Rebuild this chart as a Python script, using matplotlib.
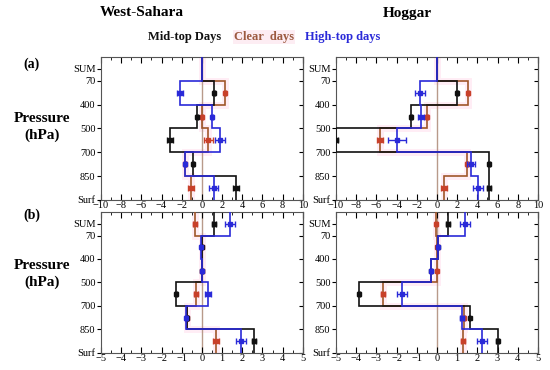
import numpy as np
import matplotlib
matplotlib.use('Agg')
import matplotlib.pyplot as plt
from matplotlib.ticker import MultipleLocator

plt.rcParams['font.family'] = ['Liberation Serif', 'DejaVu Serif']

# pressure levels, bottom to top
levels = ['Surf', '850', '700', '500', '400', '70', 'SUM']
level_pos = [0, 1, 2, 3, 4, 5, 5.5]

# (a) West-Sahara, layers Surf-850 ... 400-70
ws_a_mid = [3.4, -0.9, -3.2, -0.5, 1.2]
ws_a_clear = [-1.1, -1.7, 0.65, 0.0, 2.25]
ws_a_high = [1.15, -1.7, 1.75, 1.0, -2.2]
ws_a_mid_err = [0.3, 0.1, 0.3, 0.1, 0.1]
ws_a_clear_err = [0.3, 0.1, 0.4, 0.1, 0.1]
ws_a_high_err = [0.4, 0.1, 0.5, 0.1, 0.3]

# (a) Hoggar
hg_a_mid = [5.2, 5.2, -10.0, -2.6, 2.0]
hg_a_clear = [0.65, 3.0, -5.6, -1.0, 3.1]
hg_a_high = [4.1, 3.4, -4.0, -1.6, -1.7]
hg_a_mid_err = [0.2, 0.1, 0.2, 0.1, 0.1]
hg_a_clear_err = [0.3, 0.1, 0.3, 0.1, 0.1]
hg_a_high_err = [0.5, 0.4, 0.9, 0.3, 0.5]

# (b) West-Sahara, last value is SUM
ws_b_mid = [2.57, -0.75, -1.3, 0.0, 0.0, 0.6]
ws_b_clear = [0.68, -0.75, -0.31, 0.0, 0.0, -0.33]
ws_b_high = [1.94, -0.77, 0.3, 0.0, -0.05, 1.4]
ws_b_mid_err = [0.1, 0.05, 0.05, 0.02, 0.02, 0.1]
ws_b_clear_err = [0.15, 0.05, 0.1, 0.02, 0.02, 0.1]
ws_b_high_err = [0.25, 0.05, 0.15, 0.02, 0.02, 0.25]

# (b) Hoggar
hg_b_mid = [3.0, 1.62, -3.85, -0.3, 0.05, 0.55]
hg_b_clear = [1.27, 1.33, -2.67, 0.0, 0.0, -0.03]
hg_b_high = [2.25, 1.25, -1.75, -0.3, 0.03, 1.4]
hg_b_mid_err = [0.08, 0.03, 0.06, 0.02, 0.02, 0.1]
hg_b_clear_err = [0.1, 0.05, 0.08, 0.02, 0.02, 0.05]
hg_b_high_err = [0.25, 0.1, 0.25, 0.02, 0.02, 0.25]

c_mid = '#111111'
c_clear = '#a0562a'
c_clear_pt = '#c8402a'
c_high = '#2a2ad8'


def draw_panel(ax, series, with_sum, lim):
    edges = [0, 1, 2, 3, 4, 5, 6]
    ax.axvline(0, color='#b89a8a', lw=1.0, zorder=1)
    for vals, errs, col, pcol, z in series:
        if with_sum:
            steps = list(vals)
            ypts = [0.5, 1.5, 2.5, 3.5, 4.5, 5.5]
        else:
            steps = list(vals) + [0.0]
            ypts = [0.5, 1.5, 2.5, 3.5, 4.5]
        if col == c_clear:
            ax.stairs(steps, edges, orientation='horizontal', baseline=None,
                      color='#ffdcec', lw=5, alpha=0.5, zorder=0)
        ax.stairs(steps, edges, orientation='horizontal', baseline=None,
                  color=col, lw=1.2, zorder=z)
        ax.errorbar(vals, ypts, xerr=errs, fmt='s', ms=2.5, color=pcol,
                    ecolor=pcol, elinewidth=1.0, capsize=2, capthick=1.0,
                    zorder=z + 1)
    ax.set_xlim(-lim, lim)
    ax.set_ylim(0, 6)
    ax.set_yticks(level_pos)
    ax.set_yticklabels(levels)
    ax.xaxis.set_major_locator(MultipleLocator(lim / 5))
    ax.xaxis.set_minor_locator(MultipleLocator(lim / 10))
    ax.tick_params(axis='x', which='both', direction='in', top=True,
                   labelsize=7.5, pad=1)
    ax.tick_params(axis='x', which='major', length=4)
    ax.tick_params(axis='x', which='minor', length=2)
    ax.tick_params(axis='y', direction='out', length=3, labelsize=7.5, pad=1)
    sec = ax.secondary_yaxis('right')
    sec.set_yticks(level_pos)
    sec.tick_params(direction='in', length=3, labelright=False)
    for sp in ax.spines.values():
        sp.set_color('#555555')
        sp.set_linewidth(0.8)


fig = plt.figure(figsize=(5.5, 3.7), dpi=100)

ax1 = fig.add_axes([0.1836, 0.4595, 0.367, 0.3865])
ax2 = fig.add_axes([0.611, 0.4595, 0.367, 0.3865])
ax3 = fig.add_axes([0.1836, 0.046, 0.367, 0.381])
ax4 = fig.add_axes([0.611, 0.046, 0.367, 0.381])

draw_panel(ax1, [(ws_a_clear, ws_a_clear_err, c_clear, c_clear_pt, 3),
                 (ws_a_mid, ws_a_mid_err, c_mid, c_mid, 5),
                 (ws_a_high, ws_a_high_err, c_high, c_high, 7)], False, 10)
draw_panel(ax2, [(hg_a_clear, hg_a_clear_err, c_clear, c_clear_pt, 3),
                 (hg_a_mid, hg_a_mid_err, c_mid, c_mid, 5),
                 (hg_a_high, hg_a_high_err, c_high, c_high, 7)], False, 10)
draw_panel(ax3, [(ws_b_clear, ws_b_clear_err, c_clear, c_clear_pt, 3),
                 (ws_b_mid, ws_b_mid_err, c_mid, c_mid, 5),
                 (ws_b_high, ws_b_high_err, c_high, c_high, 7)], True, 5)
draw_panel(ax4, [(hg_b_clear, hg_b_clear_err, c_clear, c_clear_pt, 3),
                 (hg_b_mid, hg_b_mid_err, c_mid, c_mid, 5),
                 (hg_b_high, hg_b_high_err, c_high, c_high, 7)], True, 5)

# column titles and legend words
fig.text(142 / 550, 1 - 13 / 370, 'West-Sahara', ha='center', va='center',
         fontsize=11, fontweight='bold')
fig.text(407 / 550, 1 - 13 / 370, 'Hoggar', ha='center', va='center',
         fontsize=11, fontweight='bold')
fig.text(185 / 550, 1 - 37 / 370, 'Mid-top Days', ha='center', va='center',
         fontsize=9, fontweight='bold', color=c_mid)
fig.text(264 / 550, 1 - 37 / 370, 'Clear  days', ha='center', va='center',
         fontsize=9, fontweight='bold', color='#9c5a40',
         bbox=dict(facecolor='#fdedf3', edgecolor='none', pad=1))
fig.text(343 / 550, 1 - 37 / 370, 'High-top days', ha='center', va='center',
         fontsize=9, fontweight='bold', color=c_high)

# row labels
fig.text(32 / 550, 1 - 64 / 370, '(a)', ha='center', va='center',
         fontsize=10, fontweight='bold')
fig.text(32 / 550, 1 - 215 / 370, '(b)', ha='center', va='center',
         fontsize=10, fontweight='bold')
fig.text(42 / 550, 1 - 127 / 370, 'Pressure\n(hPa)', ha='center',
         va='center', fontsize=11, fontweight='bold', linespacing=1.3)
fig.text(42 / 550, 1 - 274 / 370, 'Pressure\n(hPa)', ha='center',
         va='center', fontsize=11, fontweight='bold', linespacing=1.3)

fig.savefig('out.png', dpi=100)
